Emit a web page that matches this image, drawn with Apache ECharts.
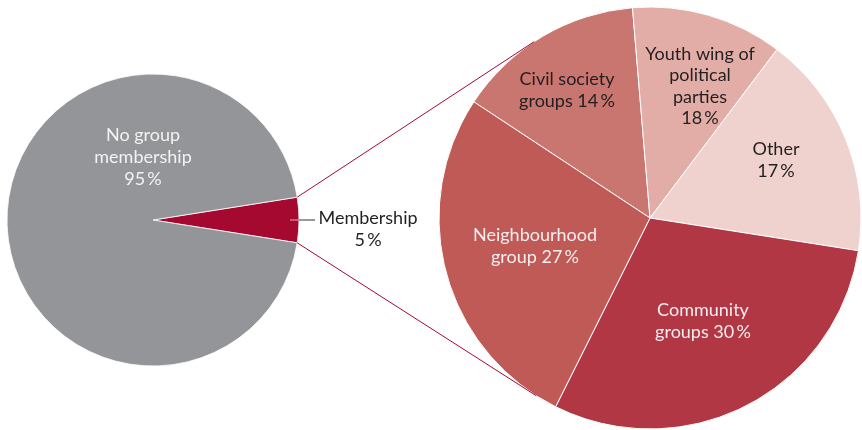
<!DOCTYPE html>
<html><head><meta charset="utf-8">
<script src="https://cdn.jsdelivr.net/npm/echarts@6/dist/echarts.min.js"></script>
<style>html,body{margin:0;padding:0;background:#fff}#c{width:862px;height:430px}</style>
</head><body><div id="c"></div>
<script>
// ---- data ----
const overviewNames = ['Membership', 'No group\nmembership'];
const overviewValues = [5, 95];
const overviewPct = [5, 95];
const detailNames = ['Civil society\ngroups', 'Youth wing of\npolitical\nparties', 'Other', 'Community\ngroups', 'Neighbourhood\ngroup'];
const detailValues = [14.4, 11.6, 17.2, 29.9, 26.9]; // slice sizes as drawn
const detailPct = [14, 18, 17, 30, 27];               // printed percentages

// ---- style / layout ----
const overviewColors = ['#A6092F', '#939598'];
const detailColors = ['#C97570', '#E2ADA6', '#EFD2CD', '#B23744', '#BF5A57'];
const detailJoin = [' ', '\n', '\n', ' ', ' '];
const overviewJoin = ['\n', '\n'];
const overviewText = ['#231f20', '#f4f2f2'];
const detailText = ['#231f20', '#231f20', '#231f20', '#f6eeee', '#f6eeee'];
const L = {c: [153, 220], r: 146};
const R = {c: [650, 218], r: 211};
const overviewLabelPos = [[368, 229], [143, 157]];
const detailLabelPos = [[567, 90], [700, 86], [776, 160], [703, 321], [535, 246]];
const FONT = 'Lato, "Open Sans", sans-serif';
const pctText = v => v + '\u2009%';

const halfAngle = overviewValues[0] / overviewValues.reduce((a, b) => a + b, 0) * 180; // degrees
const chart = echarts.init(document.getElementById('c'), null, {renderer: 'canvas'});

function tangent(P, C, r, sign) {
  const dx = C[0] - P[0], dy = C[1] - P[1];
  const d = Math.hypot(dx, dy);
  const th = Math.atan2(dy, dx), a = Math.asin(r / d);
  const len = Math.sqrt(d * d - r * r);
  const ang = th + sign * a;
  return [P[0] + len * Math.cos(ang), P[1] + len * Math.sin(ang)];
}
const rad = halfAngle * Math.PI / 180;
const topCorner = [L.c[0] + L.r * Math.cos(rad), L.c[1] - L.r * Math.sin(rad)];
const botCorner = [L.c[0] + L.r * Math.cos(rad), L.c[1] + L.r * Math.sin(rad)];
const topT = tangent(topCorner, R.c, R.r, -1);
const botT = tangent(botCorner, R.c, R.r, 1);

const lineColor = '#A6092F';
chart.setOption({
  animation: false,
  backgroundColor: '#fff',
  series: [
    {
      type: 'pie', center: L.c, radius: L.r, startAngle: halfAngle, clockwise: true,
      silent: true,
      itemStyle: {borderColor: '#fff', borderWidth: 0.8},
      label: {
        show: true, position: 'inside', fontFamily: FONT, fontSize: 18, lineHeight: 22, align: 'center',
        formatter: p => overviewNames[p.dataIndex] + overviewJoin[p.dataIndex] + pctText(overviewPct[p.dataIndex])
      },
      labelLine: {show: false},
      labelLayout: p => ({x: overviewLabelPos[p.dataIndex][0], y: overviewLabelPos[p.dataIndex][1], align: 'center', verticalAlign: 'middle'}),
      data: overviewValues.map((v, i) => ({value: v, name: overviewNames[i], itemStyle: {color: overviewColors[i]}, label: {color: overviewText[i]}}))
    },
    {
      type: 'pie', center: R.c, radius: R.r, startAngle: 146.6, clockwise: true,
      silent: true,
      itemStyle: {borderColor: '#fff', borderWidth: 1},
      label: {
        show: true, position: 'inside', fontFamily: FONT, fontSize: 18, lineHeight: 21.5, align: 'center',
        formatter: p => detailNames[p.dataIndex] + detailJoin[p.dataIndex] + pctText(detailPct[p.dataIndex])
      },
      labelLine: {show: false},
      labelLayout: p => ({x: detailLabelPos[p.dataIndex][0], y: detailLabelPos[p.dataIndex][1], align: 'center', verticalAlign: 'middle'}),
      data: detailValues.map((v, i) => ({value: v, name: detailNames[i], itemStyle: {color: detailColors[i]}, label: {color: detailText[i]}}))
    }
  ],
  graphic: [
    {type: 'line', shape: {x1: topCorner[0], y1: topCorner[1], x2: topT[0], y2: topT[1]}, style: {stroke: lineColor, lineWidth: 1}, z: 10},
    {type: 'line', shape: {x1: botCorner[0], y1: botCorner[1], x2: botT[0], y2: botT[1]}, style: {stroke: lineColor, lineWidth: 1}, z: 10},
    {type: 'line', shape: {x1: L.c[0] + L.r - 9, y1: L.c[1], x2: L.c[0] + L.r, y2: L.c[1]}, style: {stroke: '#e6a9b6', lineWidth: 1}, z: 10},
    {type: 'line', shape: {x1: L.c[0] + L.r, y1: L.c[1], x2: L.c[0] + L.r + 16, y2: L.c[1]}, style: {stroke: '#333', lineWidth: 1}, z: 10}
  ]
});
</script>
</body></html>
